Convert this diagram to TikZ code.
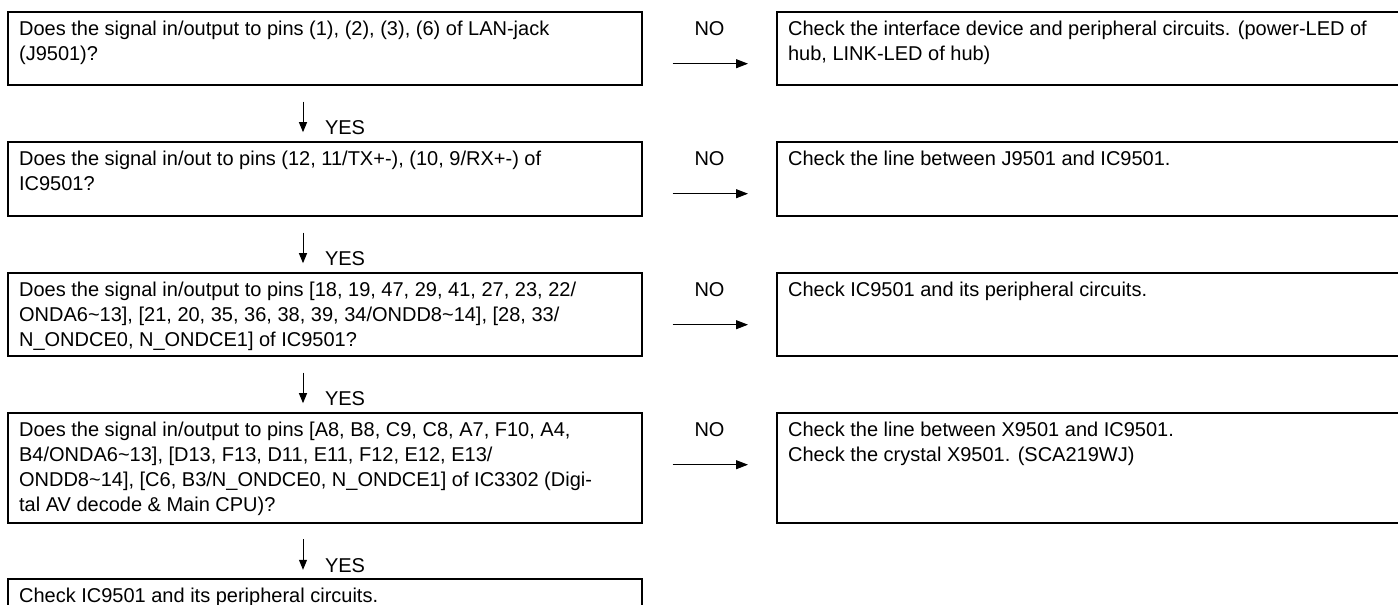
\documentclass[tikz,border=0pt]{standalone}
\usepackage{fontspec}
\setmainfont{Liberation Sans}
\usetikzlibrary{arrows.meta,calc}
\begin{document}
\begin{tikzpicture}[x=1pt,y=-1pt,
  qbox/.style={draw=black,line width=1.8pt,inner sep=0pt,outer sep=0pt,anchor=north west,minimum width=633.4pt},
  abox/.style={draw=black,line width=1.8pt,inner sep=0pt,outer sep=0pt,anchor=north west,minimum width=660pt},
  txt/.style={anchor=north west,inner sep=0pt,outer sep=0pt,align=left,font=\fontsize{20pt}{25pt}\selectfont},
  lab/.style={inner sep=0pt,outer sep=0pt,font=\fontsize{20pt}{25pt}\selectfont},
  yesarr/.style={draw=black,line width=1pt,-{Triangle[length=10pt,width=8pt]}},
  noarr/.style={draw=black,line width=1pt,-{Triangle[length=12pt,width=9pt]}}
]
\useasboundingbox (0,0) rectangle (1398,605);
\clip (0,0) rectangle (1398,605);

% question boxes
\node[qbox,minimum height=73.3pt] (q1) at (8.3,11.7) {};
\node[qbox,minimum height=74.3pt] (q2) at (8.3,141.7) {};
\node[qbox,minimum height=83.3pt] (q3) at (8.3,272.7) {};
\node[qbox,minimum height=110pt] (q4) at (8.3,412.7) {};
\node[qbox,minimum height=60pt] (q5) at (8.3,579.3) {};

% answer boxes
\node[abox,minimum height=73.3pt] (a1) at (777.3,11.7) {};
\node[abox,minimum height=74.3pt] (a2) at (777.3,141.7) {};
\node[abox,minimum height=83.3pt] (a3) at (777.3,272.7) {};
\node[abox,minimum height=110pt] (a4) at (777.3,412.7) {};

% texts
\node[txt] (tq1) at ($(q1.north west)+(10.8,6)$) {\strut Does the signal in/output to pins (1), (2), (3), (6) of LAN-jack\\(J9501)?};
\node[txt] (tq2) at ($(q2.north west)+(10.8,6)$) {\strut Does the signal in/out to pins (12, 11/TX+-), (10, 9/RX+-) of\\IC9501?};
\node[txt] (tq3) at ($(q3.north west)+(10.8,6)$) {\strut Does the signal in/output to pins [18, 19, 47, 29, 41, 27, 23, 22/\\ONDA6\textasciitilde13], [21, 20, 35, 36, 38, 39, 34/ONDD8\textasciitilde14], [28, 33/\\N\_ONDCE0, N\_ONDCE1] of IC9501?};
\node[txt] (tq4) at ($(q4.north west)+(10.8,6)$) {\strut Does the signal in/output to pins [A8, B8, C9, C8, A7, F10, A4,\\B4/ONDA6\textasciitilde13], [D13, F13, D11, E11, F12, E12, E13/\\ONDD8\textasciitilde14], [C6, B3/N\_ONDCE0, N\_ONDCE1] of IC3302 (Digi-\\tal AV decode \& Main CPU)?};
\node[txt] (tq5) at ($(q5.north west)+(10.8,6)$) {\strut Check IC9501 and its peripheral circuits.};

\node[txt] (ta1) at ($(a1.north west)+(10.8,6)$) {\strut Check the interface device and peripheral circuits. (power-LED of\\hub, LINK-LED of hub)};
\node[txt] (ta2) at ($(a2.north west)+(10.8,6)$) {\strut Check the line between J9501 and IC9501.};
\node[txt] (ta3) at ($(a3.north west)+(10.8,6)$) {\strut Check IC9501 and its peripheral circuits.};
\node[txt] (ta4) at ($(a4.north west)+(10.8,6)$) {\strut Check the line between X9501 and IC9501.\\Check the crystal X9501. (SCA219WJ)};

% NO connectors
\foreach \i in {1,2,3,4}{
  \draw[noarr] ($(q\i.north east)+(31,52)$) -- ($(a\i.north west)+(-29.3,52)$);
  \node[lab,anchor=base] (n\i) at ($(q\i.north east)!0.5!(a\i.north west)+(0,23.5)$) {NO};
}

% YES connectors
\foreach \i/\j in {1/2,2/3,3/4,4/5}{
  \draw[yesarr] ($(q\i.south)+(-22,16.5)$) -- ($(q\j.north)+(-22,-9.5)$);
  \node[lab,anchor=base west] (y\i) at ($(q\j.north)+(0,-7)$) {YES};
}
\end{tikzpicture}
\end{document}
